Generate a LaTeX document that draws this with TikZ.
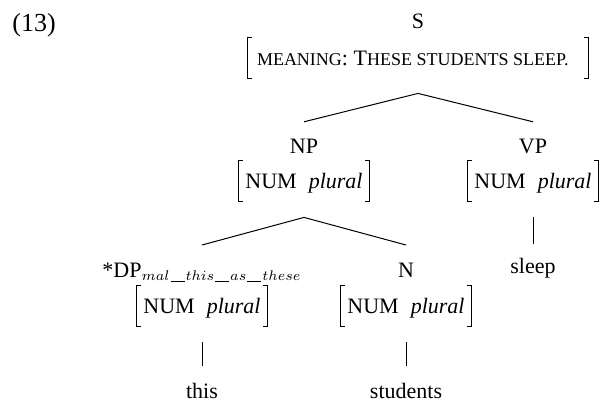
\documentclass[tikz,border=0pt]{standalone}
\usepackage{fontspec}
\setmainfont{Liberation Serif}
% small capitals imitated with reduced upper-case letters
\newcommand\fsc[1]{{\fontsize{9}{10}\selectfont #1}}
% long underscore used inside the subscript
\newcommand\us{\kern0.5pt\rule[-0.7pt]{7pt}{0.35pt}\kern0.5pt}
% subscript set at a fixed small size
\newcommand\malsub{\hbox{\fontsize{7.5}{8}\selectfont$mal\us this\us as\us these$}}
% square brackets drawn round a feature-structure node
\newcommand\avmbr[1]{%
  \draw[br] ([xshift=2pt]#1.north west) -| (#1.south west) -- ++(4,0);
  \draw[br] ([xshift=-2pt]#1.north east) -| (#1.south east) -- ++(-4,0);}
\newcommand\numpl{NUM\hspace{6pt}\textit{plural}}
\begin{document}
\begin{tikzpicture}[x=0.5pt,y=-0.5pt,
  lbl/.style={inner sep=0pt, anchor=base, font=\fontsize{11}{13}\selectfont},
  avm/.style={inner xsep=0pt, inner ysep=0pt, anchor=base, text height=13.5pt,
    text depth=6.5pt, minimum width=65pt, font=\fontsize{11}{13}\selectfont},
  br/.style={line width=0.5pt},
  branch/.style={line width=0.5pt}]
\useasboundingbox (0,0) rectangle (600,404);

% example number
\node[lbl, anchor=base west, font=\fontsize{13}{15}\selectfont] (ex) at (12,31) {(13)};

% root
\node[lbl] (s) at (418,28) {S};
\node[avm, minimum width=170pt] (sm) at (418,65)
  {\makebox[161pt][l]{\fsc{MEANING}: T\fsc{HESE STUDENTS SLEEP.}}};

% second level
\node[lbl] (np) at (304,153) {NP};
\node[avm] (npm) at (304,188) {\numpl};
\node[lbl] (vp) at (533,153) {VP};
\node[avm] (vpm) at (533,188) {\numpl};

% third level
\node[lbl] (dp) at (202,277) {*DP$_{\malsub}$};
\node[avm] (dpm) at (202,313) {\numpl};
\node[lbl] (n) at (406,277) {N};
\node[avm] (nm) at (406,313) {\numpl};
\node[lbl] (sleep) at (533,273) {sleep};

% words
\node[lbl] (this) at (202,398) {this};
\node[lbl] (students) at (406,398) {students};

% brackets
\avmbr{sm}
\avmbr{npm}
\avmbr{vpm}
\avmbr{dpm}
\avmbr{nm}

% branches
\coordinate (sa) at ([yshift=-7.5pt]sm.south);
\draw[branch] (sa) -- ([yshift=8.2pt]np.north);
\draw[branch] (sa) -- ([yshift=8.2pt]vp.north);
\coordinate (na) at ([yshift=-8pt]npm.south);
\draw[branch] (na) -- ([yshift=8.6pt]dp.north);
\draw[branch] (na) -- ([yshift=8.6pt]n.north);
\draw[branch] ([yshift=-8pt]vpm.south) -- ([yshift=6.5pt]sleep.north);
\draw[branch] ([yshift=-8pt]dpm.south) -- ([yshift=8pt]this.north);
\draw[branch] ([yshift=-8pt]nm.south) -- ([yshift=8pt]students.north);
\end{tikzpicture}
\end{document}
